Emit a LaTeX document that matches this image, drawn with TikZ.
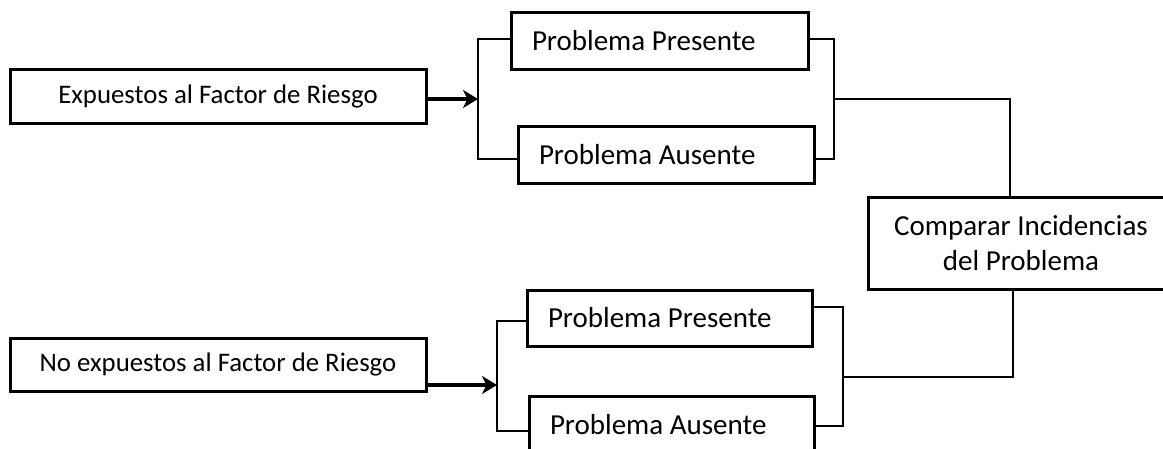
\documentclass[tikz,border=0pt]{standalone}
\usepackage{fontspec}
\setmainfont{Carlito}
\usetikzlibrary{arrows.meta}
\begin{document}
\begin{tikzpicture}[x=1pt,y=-1pt,
  every node/.style={font=\fontsize{29}{35}\selectfont},
  small/.style={font=\fontsize{26.8}{32}\selectfont},
  box/.style={draw, line width=3pt, inner sep=0pt, minimum height=#1},
  box/.default=57pt,
  padbox/.style={box, inner xsep=21pt},
  conn/.style={line width=2.7pt},
  arr/.style={line width=3.4pt, -{Stealth[length=15pt,width=18pt,inset=4.5pt]}}]
  \useasboundingbox (0,0) rectangle (1163,448);
  \clip (0,0) rectangle (1163,448);

  % source groups
  \node[box=54pt, minimum width=416pt, small] (exp) at (218,96) {Expuestos al Factor de Riesgo};
  \node[box=53pt, minimum width=416pt, small] (nexp) at (218,364.5) {No expuestos al Factor de Riesgo};

  % outcome boxes, text set flush left
  \node[padbox] (pp1) at (659.5,40.5) {\makebox[255pt][l]{Problema Presente}};
  \node[padbox] (pa1) at (666,154.5) {\makebox[254pt][l]{Problema Ausente}};
  \node[padbox, minimum height=56pt] (pp2) at (669.5,318) {\makebox[243pt][l]{Problema Presente}};
  \node[padbox] (pa2) at (671.5,424.5) {\makebox[243pt][l]{Problema Ausente}};

  % comparison box
  \node[box=92pt, minimum width=306pt, align=center] (cmp) at (1021,243)
    {Comparar Incidencias\\del Problema};

  % bracket corners
  \coordinate (b1t) at (478,39);
  \coordinate (b1m) at (478,99);
  \coordinate (b1b) at (478,159);
  \coordinate (r1t) at (834,39);
  \coordinate (r1m) at (834,99);
  \coordinate (r1b) at (834,159);
  \coordinate (j1) at (1010,99);
  \coordinate (b2t) at (497,321);
  \coordinate (b2m) at (497,385);
  \coordinate (b2b) at (497,431);
  \coordinate (r2t) at (843,307);
  \coordinate (r2m) at (843,377);
  \coordinate (r2b) at (843,426);
  \coordinate (j2) at (1013,377);

  % arrows into the brackets
  \draw[arr] (exp.east |- b1m) -- (b1m);
  \draw[arr] (nexp.east |- b2m) -- (b2m);

  % left brackets
  \draw[conn] (pp1.west |- b1t) -- (b1t) -- (b1b) -- (pa1.west |- b1b);
  \draw[conn] (pp2.west |- b2t) -- (b2t) -- (b2b) -- (pa2.west |- b2b);

  % right brackets and links to the comparison
  \draw[conn] (pp1.east |- r1t) -- (r1t) -- (r1b) -- (pa1.east |- r1b);
  \draw[conn] (r1m) -- (j1) -- (cmp.north -| j1);
  \draw[conn] (pp2.east |- r2t) -- (r2t) -- (r2b) -- (pa2.east |- r2b);
  \draw[conn] (r2m) -- (j2) -- (cmp.south -| j2);
\end{tikzpicture}
\end{document}
